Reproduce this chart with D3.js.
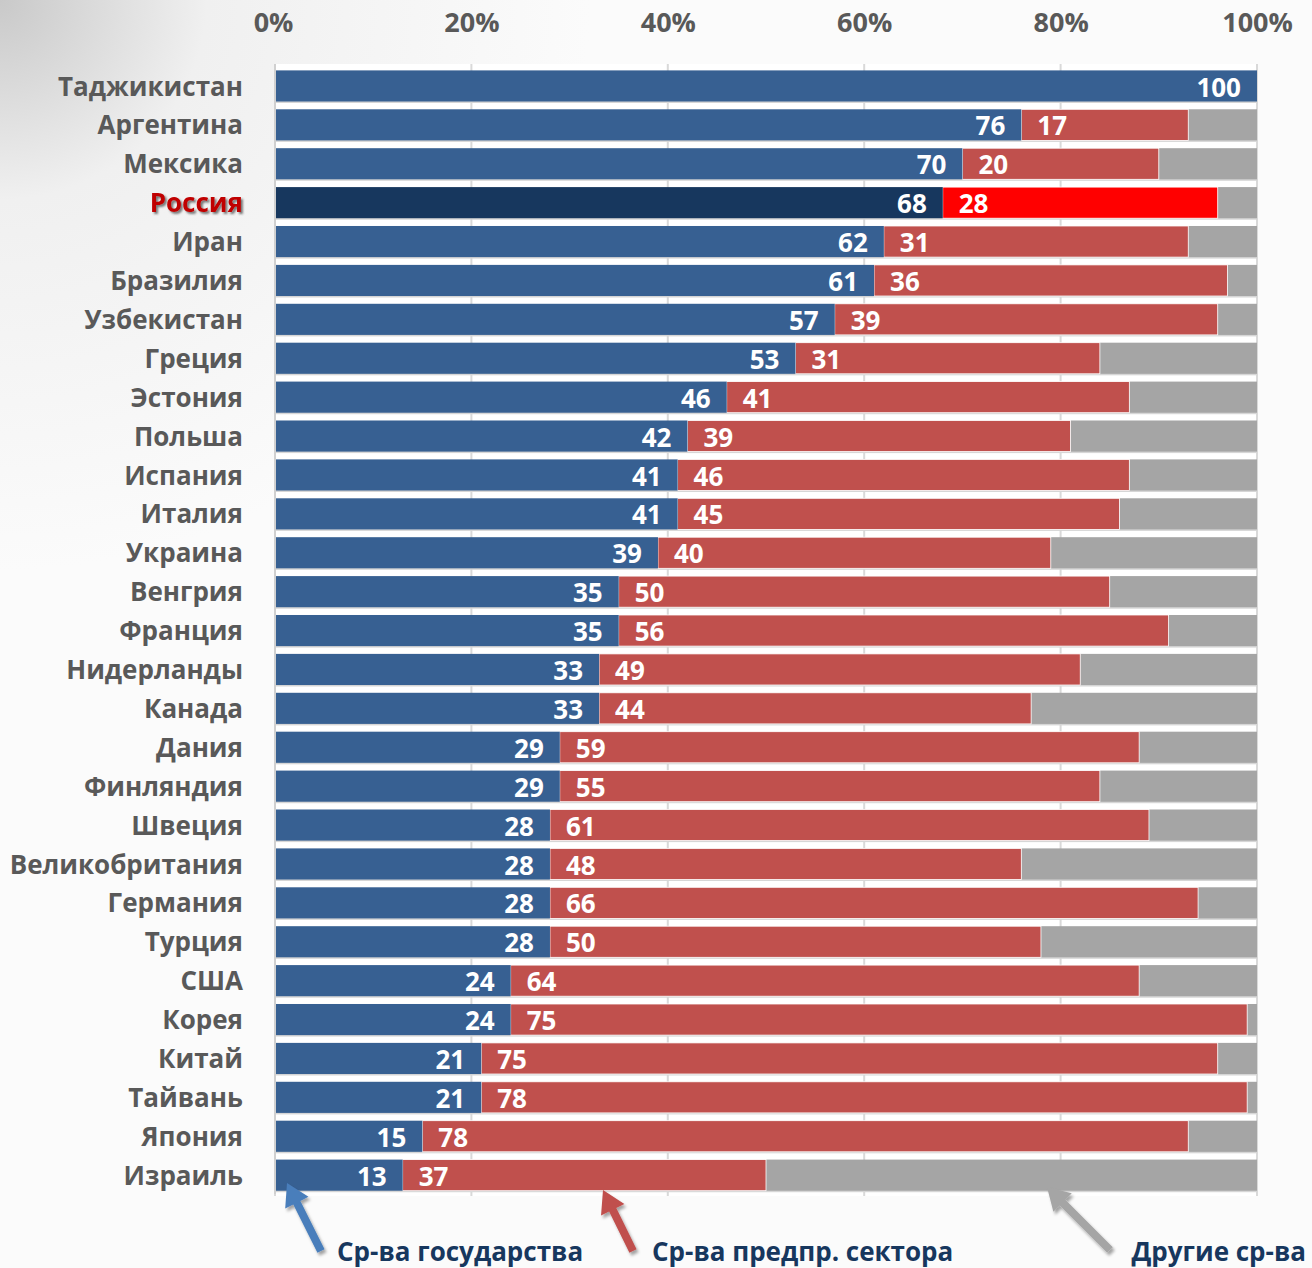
<!DOCTYPE html>
<html>
<head>
<meta charset="utf-8">
<script src="https://cdn.jsdelivr.net/npm/d3@7"></script>
<style>
  html, body { margin: 0; padding: 0; background: #f7f7f7; }
  svg { display: block; font-family: "Open Sans", "DejaVu Sans", sans-serif; }
</style>
</head>
<body>
<div id="chart"></div>
<script>
const countries = ["Таджикистан", "Аргентина", "Мексика", "Россия", "Иран", "Бразилия", "Узбекистан",
  "Греция", "Эстония", "Польша", "Испания", "Италия", "Украина", "Венгрия", "Франция", "Нидерланды",
  "Канада", "Дания", "Финляндия", "Швеция", "Великобритания", "Германия", "Турция", "США", "Корея",
  "Китай", "Тайвань", "Япония", "Израиль"];
// доля государства, %
const govShare = [100, 76, 70, 68, 62, 61, 57, 53, 46, 42, 41, 41, 39, 35, 35, 33, 33, 29, 29, 28, 28, 28, 28, 24, 24, 21, 21, 15, 13];
// доля предпринимательского сектора, %
const bizShare = [0, 17, 20, 28, 31, 36, 39, 31, 41, 39, 46, 45, 40, 50, 56, 49, 44, 59, 55, 61, 48, 66, 50, 64, 75, 75, 78, 78, 37];
const tickValues = [0, 20, 40, 60, 80, 100];
const legendLabels = ["Ср-ва государства", "Ср-ва предпр. сектора", "Другие ср-ва"];
const highlight = "Россия";

const width = 1312, height = 1268;
const rows = countries.map((c, i) => ({ name: c, gov: govShare[i], biz: bizShare[i] }));

const svg = d3.select("#chart").append("svg")
  .attr("width", width).attr("height", height);

const defs = svg.append("defs");
const bg = defs.append("radialGradient").attr("id", "bg")
  .attr("cx", 0).attr("cy", 0).attr("r", 0.45).attr("gradientUnits", "objectBoundingBox");
bg.append("stop").attr("offset", 0).attr("stop-color", "#c9c9c9");
bg.append("stop").attr("offset", 0.35).attr("stop-color", "#f0f0f0");
bg.append("stop").attr("offset", 1).attr("stop-color", "#fbfbfb");

const shadow = defs.append("filter").attr("id", "shadow")
  .attr("x", "-20%").attr("y", "-20%").attr("width", "140%").attr("height", "140%");
shadow.append("feDropShadow").attr("dx", 2).attr("dy", 3).attr("stdDeviation", 1.5)
  .attr("flood-color", "#000").attr("flood-opacity", 0.35);

const textShadow = defs.append("filter").attr("id", "textShadow")
  .attr("x", "-10%").attr("y", "-20%").attr("width", "120%").attr("height", "150%");
textShadow.append("feDropShadow").attr("dx", 2).attr("dy", 2).attr("stdDeviation", 0.8)
  .attr("flood-color", "#404040").attr("flood-opacity", 0.7);

svg.append("rect").attr("width", width).attr("height", height).attr("fill", "url(#bg)");

const x = d3.scaleLinear().domain([0, 100]).range([275, 1257]);
const y = d3.scaleBand().domain(countries).range([66.5, 1194.6]).paddingInner(0.2).paddingOuter(0.1);

// область построения
svg.append("rect")
  .attr("x", x(0)).attr("y", 64)
  .attr("width", x(100) - x(0)).attr("height", 1132)
  .attr("fill", "#ffffff");

// вертикальная сетка
svg.append("g").selectAll("line")
  .data(tickValues)
  .join("line")
  .attr("x1", d => x(d)).attr("x2", d => x(d))
  .attr("y1", 64).attr("y2", 1196)
  .attr("stroke", "#d9d9d9").attr("stroke-width", 2);

// шкала сверху
const axis = d3.axisTop(x).tickValues(tickValues).tickFormat(d => d + "%").tickSize(0);
const ax = svg.append("g").attr("transform", "translate(0,35)").call(axis);
ax.select(".domain").remove();
ax.selectAll("text")
  .attr("font-size", 27).attr("font-weight", 700).attr("fill", "#595959")
  .attr("font-family", "\"Open Sans\", sans-serif").attr("dy", 0);
ax.selectAll(".tick").filter(d => d === 0).select("text").attr("dx", -2);

const bar = svg.append("g").selectAll("g")
  .data(rows)
  .join("g")
  .attr("transform", d => `translate(0,${y(d.name)})`);

const bh = y.bandwidth();

// тень под полосами
bar.append("rect")
  .attr("x", x(0)).attr("y", 1.5)
  .attr("width", x(100) - x(0)).attr("height", bh)
  .attr("fill", "#d6d6d6");

// другие средства
bar.append("rect")
  .attr("x", d => x(d.gov + d.biz)).attr("y", 0)
  .attr("width", d => x(100) - x(d.gov + d.biz)).attr("height", bh)
  .attr("fill", "#a5a5a5");

// предпринимательский сектор
bar.append("rect")
  .attr("x", d => x(d.gov)).attr("y", 0)
  .attr("width", d => x(d.gov + d.biz) - x(d.gov)).attr("height", bh)
  .attr("fill", d => d.name === highlight ? "#ff0000" : "#c0504d")
  .attr("stroke", "#ffffff").attr("stroke-width", 0.8);

// государство
bar.append("rect")
  .attr("x", x(0)).attr("y", 0)
  .attr("width", d => x(d.gov) - x(0)).attr("height", bh)
  .attr("fill", d => d.name === highlight ? "#17375e" : "#376092");

const valueFont = 26;
bar.append("text")
  .attr("x", d => x(d.gov) - 16).attr("y", bh - 5)
  .attr("text-anchor", "end")
  .attr("font-size", valueFont).attr("font-weight", 700).attr("fill", "#fff")
  .text(d => d.gov);

bar.filter(d => d.biz > 0).append("text")
  .attr("x", d => x(d.gov) + 16).attr("y", bh - 5)
  .attr("text-anchor", "start")
  .attr("font-size", valueFont).attr("font-weight", 700).attr("fill", "#fff")
  .text(d => d.biz);

// левая ось
svg.append("line")
  .attr("x1", x(0)).attr("x2", x(0)).attr("y1", 64).attr("y2", 1194)
  .attr("stroke", "#d0d0d0").attr("stroke-width", 2);

// подписи стран
svg.append("g").selectAll("text")
  .data(rows)
  .join("text")
  .attr("x", 243).attr("y", d => y(d.name) + bh - 6)
  .attr("text-anchor", "end")
  .attr("font-size", 26).attr("font-weight", 700)
  .attr("fill", d => d.name === highlight ? "#c00000" : "#595959")
  .attr("filter", d => d.name === highlight ? "url(#textShadow)" : null)
  .text(d => d.name);

// стрелки-указатели
const arrowData = [
  { from: [321, 1251], to: [287, 1183], color: "#4a7ebb" },
  { from: [633, 1251], to: [603, 1190], color: "#c0504d" },
  { from: [1110, 1250], to: [1047, 1187], color: "#a5a5a5" }
];
function arrowPath(a) {
  const dx = a.to[0] - a.from[0], dy = a.to[1] - a.from[1];
  const len = Math.hypot(dx, dy);
  const ux = dx / len, uy = dy / len, px = -uy, py = ux;
  const head = 22, hw = 13, sw = 4;
  const bx = a.to[0] - ux * head, by = a.to[1] - uy * head;
  const pts = [
    [a.from[0] + px * sw, a.from[1] + py * sw],
    [bx + px * sw, by + py * sw],
    [bx + px * hw, by + py * hw],
    a.to,
    [bx - px * hw, by - py * hw],
    [bx - px * sw, by - py * sw],
    [a.from[0] - px * sw, a.from[1] - py * sw]
  ];
  return d3.line()(pts) + "Z";
}
svg.append("g").selectAll("path")
  .data(arrowData)
  .join("path")
  .attr("d", arrowPath)
  .attr("fill", d => d.color)
  .attr("filter", "url(#shadow)");

// подписи категорий
const legendPos = [{ x: 337, anchor: "start" }, { x: 652, anchor: "start" }, { x: 1306, anchor: "end" }];
svg.append("g").selectAll("text")
  .data(legendLabels)
  .join("text")
  .attr("x", (d, i) => legendPos[i].x).attr("y", 1261)
  .attr("text-anchor", (d, i) => legendPos[i].anchor)
  .attr("font-size", 26).attr("font-weight", 700).attr("fill", "#17375e")
  .text(d => d);
</script>
</body>
</html>
